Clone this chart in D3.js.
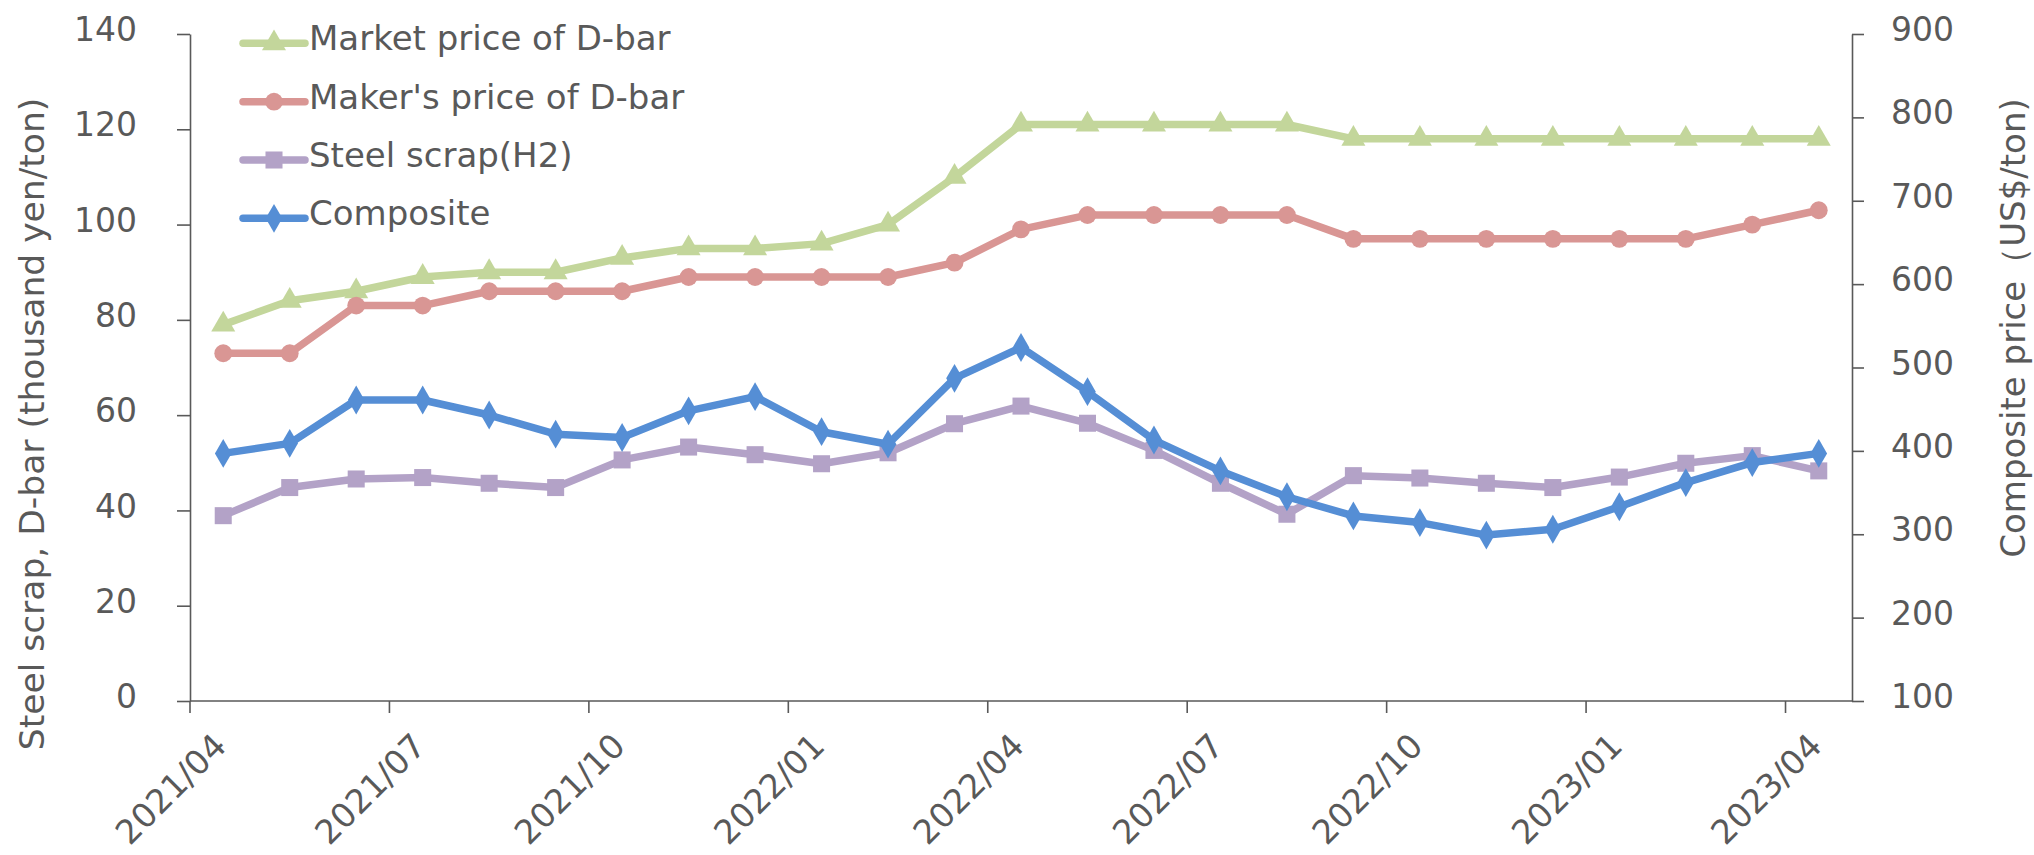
<!DOCTYPE html>
<html>
<head>
<meta charset="utf-8">
<script src="https://cdn.jsdelivr.net/npm/d3@7"></script>
<style>
  html, body { margin: 0; padding: 0; background: #fff; }
  svg text { font-family: "DejaVu Sans", Verdana, sans-serif; fill: #595959; }
</style>
</head>
<body>
<svg id="chart" width="2034" height="855"></svg>
<script>
// ---- data ----
const categories = ["2021/04","2021/05","2021/06","2021/07","2021/08","2021/09","2021/10","2021/11","2021/12",
  "2022/01","2022/02","2022/03","2022/04","2022/05","2022/06","2022/07","2022/08","2022/09","2022/10",
  "2022/11","2022/12","2023/01","2023/02","2023/03","2023/04"];
const marketPrice = [79, 84, 86, 89, 90, 90, 93, 95, 95, 96, 100, 110, 121, 121, 121, 121, 121, 118, 118, 118, 118, 118, 118, 118, 118];
const makerPrice  = [73, 73, 83, 83, 86, 86, 86, 89, 89, 89, 89, 92, 99, 102, 102, 102, 102, 97, 97, 97, 97, 97, 97, 100, 103];
const steelScrap  = [38.9, 44.8, 46.6, 46.9, 45.7, 44.8, 50.6, 53.3, 51.7, 49.8, 52.1, 58.2, 61.9, 58.3, 52.6, 45.7, 39.2, 47.3, 46.8, 45.7, 44.8, 47.0, 49.9, 51.5, 48.3];
const composite   = [397, 409, 461, 461, 443, 420, 416, 448, 465, 423, 408, 487, 524, 471, 413, 376, 345, 322, 314, 299, 306, 333, 362, 386, 397];
const leftTicks  = [0, 20, 40, 60, 80, 100, 120, 140];
const rightTicks = [100, 200, 300, 400, 500, 600, 700, 800, 900];
const xLabelEvery = 3;
const seriesNames = ["Market price of D-bar", "Maker's price of D-bar", "Steel scrap(H2)", "Composite"];
const leftTitle = "Steel scrap, D-bar (thousand yen/ton)";
const rightTitle = "Composite price\uFF08US$/ton)";

// ---- layout ----
const L = 190, R = 1852, T = 34, B = 701;
const svg = d3.select("#chart");
const axisColor = "#595959";
const FONT = '"DejaVu Sans", Verdana, sans-serif';

const x = d3.scaleBand().domain(categories).range([L, R]).padding(0);
const yL = d3.scaleLinear().domain([0, 140]).range([B, T]);
const yR = d3.scaleLinear().domain([100, 900]).range([B, T]);
const cx = c => x(c) + x.bandwidth() / 2;

// left axis
const gL = svg.append("g").attr("transform", `translate(${L},0)`)
  .call(d3.axisLeft(yL).tickValues(leftTicks).tickSize(13).tickSizeOuter(0).tickPadding(40));
gL.select(".domain").attr("stroke", axisColor).attr("stroke-width", 1.6);
gL.selectAll(".tick line").attr("stroke", axisColor).attr("stroke-width", 1.6);
gL.selectAll(".tick text").attr("font-size", 33).attr("dy", "0.2em")
  .style("font-family", FONT).attr("fill", "#595959");

// right axis
const gR = svg.append("g").attr("transform", `translate(${R},0)`)
  .call(d3.axisRight(yR).tickValues(rightTicks).tickSize(12).tickSizeOuter(0).tickPadding(27));
gR.select(".domain").attr("stroke", axisColor).attr("stroke-width", 1.6);
gR.selectAll(".tick line").attr("stroke", axisColor).attr("stroke-width", 1.6);
gR.selectAll(".tick text").attr("font-size", 33).attr("dy", "0.2em")
  .style("font-family", FONT).attr("fill", "#595959");

// x axis (ticks at band boundaries every 3 categories)
const boundaryScale = d3.scaleLinear().domain([0, categories.length]).range([L, R]);
const gX = svg.append("g");
gX.append("line").attr("x1", L).attr("x2", R).attr("y1", B).attr("y2", B)
  .attr("stroke", axisColor).attr("stroke-width", 1.6);
const tickIdx = d3.range(0, categories.length, xLabelEvery);
gX.selectAll("line.xt").data(tickIdx).join("line").attr("class", "xt")
  .attr("x1", i => boundaryScale(i)).attr("x2", i => boundaryScale(i))
  .attr("y1", B).attr("y2", B + 12).attr("stroke", axisColor).attr("stroke-width", 1.6);
gX.selectAll("text.xl").data(tickIdx.map(i => categories[i])).join("text").attr("class", "xl")
  .attr("font-size", 33.5).attr("text-anchor", "end")
  .attr("transform", c => `translate(${cx(c) + 5},${B + 47}) rotate(-45)`)
  .text(c => c);

// axis titles
svg.append("text").attr("font-size", 34.5).attr("text-anchor", "middle")
  .attr("transform", `translate(44,424) rotate(-90)`).text(leftTitle);
svg.append("text").attr("font-size", 34).attr("text-anchor", "middle")
  .attr("transform", `translate(2025,328) rotate(-90)`).text(rightTitle);

// series
const series = [
  { name: seriesNames[0], values: marketPrice, y: yL, color: "#C3D69B", marker: d3.symbolTriangle, size: 250 },
  { name: seriesNames[1], values: makerPrice,  y: yL, color: "#D99694", marker: d3.symbolCircle, size: 250 },
  { name: seriesNames[2], values: steelScrap,  y: yL, color: "#B3A2C7", marker: d3.symbolSquare, size: 290 },
  { name: seriesNames[3], values: composite,   y: yR, color: "#558ED5", marker: d3.symbolDiamond, size: 240 }
];

series.forEach(s => {
  const pts = categories.map((c, i) => [cx(c), s.y(s.values[i])]);
  svg.append("path").attr("d", d3.line()(pts)).attr("fill", "none")
    .attr("stroke", s.color).attr("stroke-width", 7.5).attr("stroke-linejoin", "round");
  svg.append("g").selectAll("path").data(pts).join("path")
    .attr("transform", p => `translate(${p[0]},${p[1]})`)
    .attr("d", d3.symbol().type(s.marker).size(s.size)).attr("fill", s.color);
});

// legend
const legRows = [43.3, 101.7, 160, 218.3];
series.forEach((s, i) => {
  const g = svg.append("g").attr("transform", `translate(0,${legRows[i]})`);
  g.append("line").attr("x1", 243).attr("x2", 305).attr("y1", 0).attr("y2", 0)
    .attr("stroke", s.color).attr("stroke-width", 7.5).attr("stroke-linecap", "round");
  g.append("path").attr("transform", "translate(274,0)")
    .attr("d", d3.symbol().type(s.marker).size(s.size)).attr("fill", s.color);
  g.append("text").attr("x", 309).attr("y", 7).attr("font-size", 34).text(s.name);
});
</script>
</body>
</html>
